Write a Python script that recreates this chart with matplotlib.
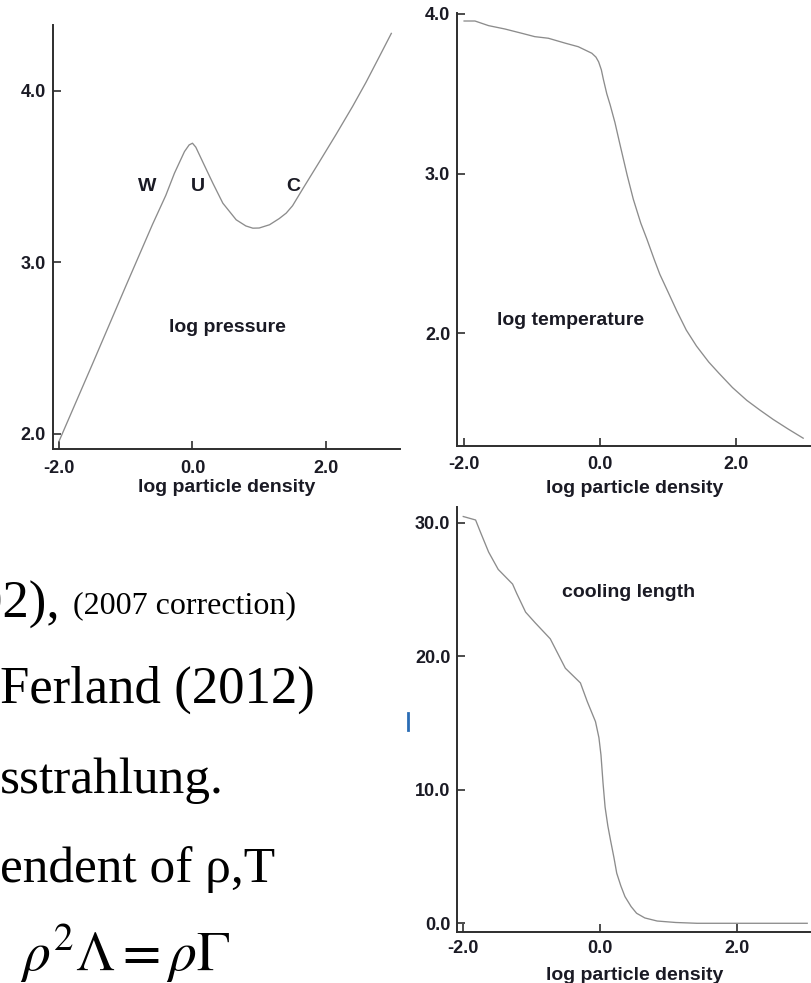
import matplotlib
matplotlib.use("Agg")
import matplotlib.pyplot as plt
from matplotlib.ticker import FormatStrFormatter
from matplotlib.lines import Line2D

plt.rcParams['axes.unicode_minus'] = False
plt.rcParams['mathtext.fontset'] = 'stix'

# log pressure vs log particle density
dens_p = [-2.0, -1.5, -1.0, -0.6, -0.4, -0.27, -0.12, -0.05, 0.0, 0.05, 0.155, 0.305,
          0.455, 0.655, 0.8, 0.905, 1.0, 1.155, 1.3, 1.405, 1.5, 1.655, 1.9, 2.15,
          2.4, 2.6, 2.8, 2.98]
pressure = [1.955, 2.405, 2.86, 3.22, 3.39, 3.52, 3.646, 3.685, 3.695, 3.672, 3.585, 3.462,
            3.345, 3.248, 3.212, 3.199, 3.20, 3.219, 3.255, 3.287, 3.33, 3.43, 3.585, 3.745,
            3.91, 4.05, 4.20, 4.336]

# log temperature
dens_t = [-2.0, -1.84, -1.64, -1.4, -1.15, -0.96, -0.76, -0.51, -0.32, -0.12, -0.06,
          -0.02, 0.02, 0.05, 0.1, 0.15, 0.22, 0.29, 0.4, 0.49, 0.6, 0.69, 0.8, 0.88,
          1.0, 1.13, 1.27, 1.42, 1.6, 1.75, 1.95, 2.16, 2.35, 2.55, 2.77, 2.99]
temperature = [3.956, 3.956, 3.927, 3.906, 3.879, 3.858, 3.848, 3.817, 3.795, 3.754, 3.73,
               3.70, 3.65, 3.59, 3.50, 3.43, 3.32, 3.19, 2.99, 2.84, 2.69, 2.59, 2.46, 2.37,
               2.26, 2.14, 2.02, 1.92, 1.82, 1.75, 1.66, 1.58, 1.52, 1.46, 1.40, 1.343]

# cooling length
dens_c = [-2.0, -1.82, -1.75, -1.63, -1.49, -1.28, -1.22, -1.09, -0.95, -0.73, -0.66,
          -0.51, -0.29, -0.19, -0.07, -0.02, 0.01, 0.04, 0.07, 0.11, 0.15, 0.2, 0.24,
          0.3, 0.36, 0.45, 0.53, 0.65, 0.83, 1.1, 1.41, 3.02]
cooling = [30.46, 30.2, 29.3, 27.8, 26.5, 25.4, 24.7, 23.3, 22.5, 21.3, 20.6,
           19.1, 18.0, 16.6, 15.1, 13.9, 12.6, 10.5, 8.7, 7.3, 6.2, 4.9, 3.75,
           2.8, 2.0, 1.25, 0.75, 0.4, 0.17, 0.06, 0.0, 0.0]

x_ticks = [-2.0, 0.0, 2.0]
W, H = 812, 983

fig = plt.figure(figsize=(W / 100, H / 100), dpi=100)

lab_font = {'family': 'Liberation Sans', 'weight': 'bold', 'size': 14, 'color': '#1a1a24'}


def setup(ax, yticks, xpad, labelpad):
    for s in ['top', 'right']:
        ax.spines[s].set_visible(False)
    for s in ['left', 'bottom']:
        ax.spines[s].set_linewidth(1.4)
        ax.spines[s].set_color('#2e2e2e')
    ax.set_xticks(x_ticks)
    ax.set_yticks(yticks)
    ax.xaxis.set_major_formatter(FormatStrFormatter('%.1f'))
    ax.yaxis.set_major_formatter(FormatStrFormatter('%.1f'))
    ax.tick_params(direction='in', length=6, width=1.2, color='#2e2e2e',
                   labelsize=13, labelcolor='#1a1a24')
    ax.tick_params(axis='x', pad=xpad)
    ax.tick_params(axis='y', pad=5)
    for t in ax.get_xticklabels() + ax.get_yticklabels():
        t.set_fontweight('bold')
        t.set_family('Liberation Sans')
    ax.set_xlabel('log particle density', fontdict=lab_font, labelpad=labelpad)


# top left: pressure
ax1 = fig.add_axes([53 / W, 1 - 449 / H, (400 - 53) / W, (449 - 25) / H])
ax1.plot(dens_p, pressure, color='#8c8c8c', lw=0.95)
ax1.set_xlim(-2.09, 3.11)
ax1.set_ylim(1.91, 4.385)
setup(ax1, [2.0, 3.0, 4.0], 8, 1)
ax1.text(-0.675, 3.445, 'W', ha='center', va='center', fontdict=lab_font)
ax1.text(0.08, 3.445, 'U', ha='center', va='center', fontdict=lab_font)
ax1.text(1.517, 3.445, 'C', ha='center', va='center', fontdict=lab_font)
ax1.text(0.52, 2.622, 'log pressure', ha='center', va='center', fontdict=lab_font)

# top right: temperature
ax2 = fig.add_axes([457.3 / W, 1 - 446 / H, (W - 457.3) / W, (446 - 12.7) / H])
ax2.plot(dens_t, temperature, color='#8c8c8c', lw=0.95)
ax2.set_xlim(-2.1, 3.12)
ax2.set_ylim(1.294, 4.008)
setup(ax2, [2.0, 3.0, 4.0], 7.5, 4.5)
ax2.text(-0.43, 2.08, 'log temperature', ha='center', va='center', fontdict=lab_font)

# bottom right: cooling length
ax3 = fig.add_axes([457.3 / W, 1 - 931.7 / H, (W - 457.3) / W, (931.7 - 507.3) / H])
ax3.plot(dens_c, cooling, color='#8c8c8c', lw=0.95)
ax3.set_xlim(-2.087, 3.09)
ax3.set_ylim(-0.63, 31.15)
setup(ax3, [0.0, 10.0, 20.0, 30.0], 6, 7)
ax3.text(0.415, 24.8, 'cooling length', ha='center', va='center', fontdict=lab_font)

# slide text fragments on the left
serif = 'Liberation Serif'
fig.text(-24 / W, 1 - 618 / H, '02),', family=serif, size=38, va='baseline')
fig.text(73 / W, 1 - 613 / H, '(2007 correction)', family=serif, size=23, va='baseline')
fig.text(0, 1 - 703 / H, 'Ferland (2012)', family=serif, size=38, va='baseline')
fig.text(0, 1 - 793 / H, 'sstrahlung.', family=serif, size=37, va='baseline')
fig.text(0, 1 - 882 / H, 'endent of ρ,T', family=serif, size=37, va='baseline')
fig.text(20 / W, 1 - 971 / H, r'$\rho^2\Lambda = \rho\Gamma$', size=40, va='baseline')

# small blue sliver
fig.add_artist(Line2D([407.7 / W, 407.7 / W], [1 - 713 / H, 1 - 730 / H],
                      color='#2a6db5', lw=2))

fig.savefig('out.png', dpi=100)
